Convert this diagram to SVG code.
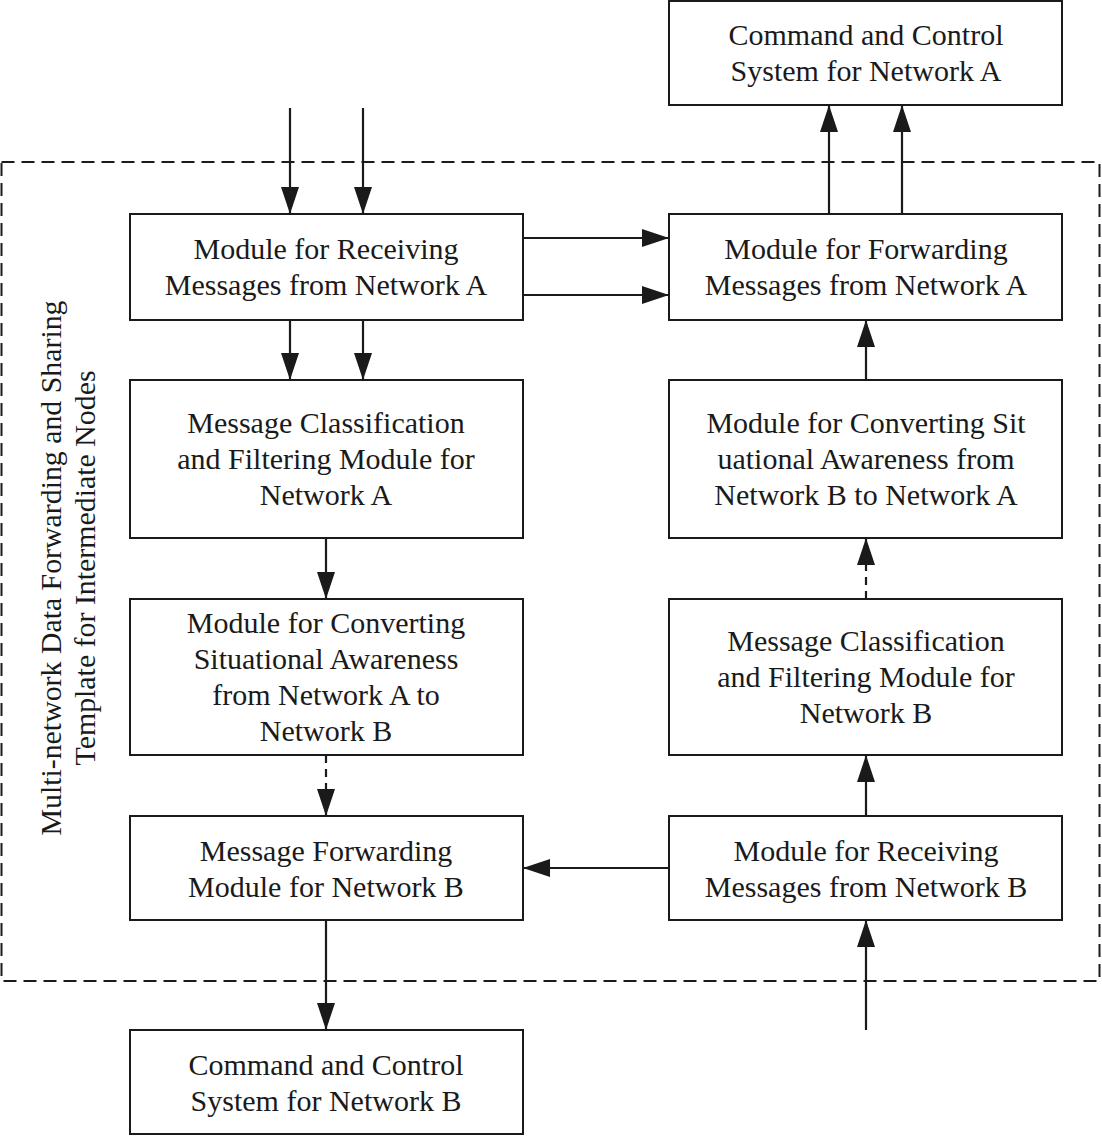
<svg xmlns="http://www.w3.org/2000/svg" width="1102" height="1136" viewBox="0 0 1102 1136">
<defs>
<marker id="ah" markerWidth="27" markerHeight="18" refX="27" refY="9" orient="auto" markerUnits="userSpaceOnUse">
<path d="M0,0 L27,9 L0,18 Z" fill="#1a1a1a"/>
</marker>
<style>
.box{fill:#fff;stroke:#1a1a1a;stroke-width:2}
.t{font-family:"Liberation Serif","Times New Roman",serif;font-size:30px;fill:#1a1a1a;text-anchor:middle}
.v{font-family:"Liberation Serif","Times New Roman",serif;font-size:29px;fill:#1a1a1a;text-anchor:middle}
.c{stroke:#1a1a1a;stroke-width:2.2;fill:none;marker-end:url(#ah)}
.d{stroke-dasharray:8,6}
</style>
</defs>
<rect width="1102" height="1136" fill="#fff"/>
<g id="container">
<rect x="1.5" y="162" width="1098" height="819" fill="none" stroke="#1a1a1a" stroke-width="2" stroke-dasharray="13,7"/>
<text class="v" transform="translate(61,568) rotate(-90)" textLength="535" lengthAdjust="spacingAndGlyphs">Multi-network Data Forwarding and Sharing</text>
<text class="v" transform="translate(95,568) rotate(-90)" textLength="395" lengthAdjust="spacingAndGlyphs">Template for Intermediate Nodes</text>
</g>
<g id="cmdA"><rect class="box" x="669" y="1" width="393" height="104"/>
<text class="t" x="866" y="45">Command and Control</text><text class="t" x="866" y="81">System for Network A</text></g>
<g id="recvA"><rect class="box" x="130" y="214" width="393" height="106"/>
<text class="t" x="326" y="259">Module for Receiving</text><text class="t" x="326" y="295">Messages from Network A</text></g>
<g id="fwdA"><rect class="box" x="669" y="214" width="393" height="106"/>
<text class="t" x="866" y="259">Module for Forwarding</text><text class="t" x="866" y="295">Messages from Network A</text></g>
<g id="classA"><rect class="box" x="130" y="380" width="393" height="158"/>
<text class="t" x="326" y="433">Message Classification</text><text class="t" x="326" y="469">and Filtering Module for</text><text class="t" x="326" y="505">Network A</text></g>
<g id="convBA"><rect class="box" x="669" y="380" width="393" height="158"/>
<text class="t" x="866" y="433">Module for Converting Sit</text><text class="t" x="866" y="469">uational Awareness from</text><text class="t" x="866" y="505">Network B to Network A</text></g>
<g id="convAB"><rect class="box" x="130" y="599" width="393" height="156"/>
<text class="t" x="326" y="633">Module for Converting</text><text class="t" x="326" y="669">Situational Awareness</text><text class="t" x="326" y="705">from Network A to</text><text class="t" x="326" y="741">Network B</text></g>
<g id="classB"><rect class="box" x="669" y="599" width="393" height="156"/>
<text class="t" x="866" y="651">Message Classification</text><text class="t" x="866" y="687">and Filtering Module for</text><text class="t" x="866" y="723">Network B</text></g>
<g id="fwdB"><rect class="box" x="130" y="816" width="393" height="104"/>
<text class="t" x="326" y="861">Message Forwarding</text><text class="t" x="326" y="897">Module for Network B</text></g>
<g id="recvB"><rect class="box" x="669" y="816" width="393" height="104"/>
<text class="t" x="866" y="861">Module for Receiving</text><text class="t" x="866" y="897">Messages from Network B</text></g>
<g id="cmdB"><rect class="box" x="130" y="1030" width="393" height="104"/>
<text class="t" x="326" y="1075">Command and Control</text><text class="t" x="326" y="1111">System for Network B</text></g>
<g id="connectors">
<path class="c" d="M290,108 V214"/>
<path class="c" d="M363,108 V214"/>
<path class="c" d="M290,320 V380"/>
<path class="c" d="M363,320 V380"/>
<path class="c" d="M523,238 H669"/>
<path class="c" d="M523,295 H669"/>
<path class="c" d="M829,214 V105"/>
<path class="c" d="M902,214 V105"/>
<path class="c" d="M866,380 V320"/>
<path class="c d" d="M866,599 V538"/>
<path class="c" d="M866,816 V755"/>
<path class="c" d="M866,1030 V920"/>
<path class="c" d="M326,538 V599"/>
<path class="c d" d="M326,755 V816"/>
<path class="c" d="M326,920 V1030"/>
<path class="c" d="M669,868 H523"/>
</g>
</svg>
